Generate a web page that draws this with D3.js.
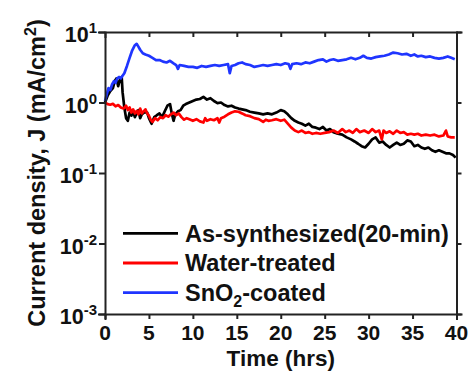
<!DOCTYPE html>
<html>
<head>
<meta charset="utf-8">
<script src="https://cdn.jsdelivr.net/npm/d3@7"></script>
<style>
  html, body { margin: 0; padding: 0; background: #fff; }
  svg { display: block; }
  text { font-family: "Liberation Sans", Arial, sans-serif; font-weight: bold; fill: #111; }
</style>
</head>
<body>
<svg id="chart" width="473" height="374"></svg>
<script>
// Time (hrs) and current density J (mA/cm^2) for each electrode
const timeBlack = [0,0.3,0.6,0.9,1.1,1.3,1.5,1.7,1.9,2.0,2.2,2.4,2.6,2.8,3.0,3.2,3.4,3.6,3.8,4.0,4.2,4.5,4.8,5.0,5.3,5.6,5.9,6.2,6.5,6.8,7.1,7.4,7.6,7.8,8.0,8.3,8.6,8.9,9.2,9.6,10.0,10.4,10.8,11.2,11.6,12.0,12.4,12.8,13.2,13.6,14.0,14.4,14.8,15.2,15.6,16.0,16.5,17.0,17.5,18.0,18.5,19.0,19.5,20.0,20.4,20.8,21.2,21.6,22.0,22.4,22.8,23.2,23.6,24.0,24.4,24.8,25.2,25.6,26.0,26.5,27.0,27.5,28.0,28.4,28.8,29.2,29.6,30.0,30.4,30.8,31.2,31.6,32.0,32.4,32.8,33.2,33.6,34.0,34.4,34.8,35.2,35.6,36.0,36.4,36.8,37.2,37.6,38.0,38.4,38.8,39.2,39.6,39.9];
const asSynthesized = [1.0,1.25,1.45,1.6,2.0,2.2,1.7,2.1,2.3,1.4,0.85,0.6,0.55,0.72,0.65,0.75,0.62,0.7,0.78,0.6,0.68,0.73,0.72,0.6,0.5,0.62,0.66,0.7,0.62,0.75,0.9,0.95,0.7,0.55,0.68,0.75,0.78,0.9,0.95,1.0,1.05,1.1,1.12,1.2,1.1,1.15,1.05,0.98,1.0,0.92,0.88,0.9,0.85,0.82,0.8,0.78,0.74,0.72,0.7,0.68,0.7,0.68,0.72,0.78,0.75,0.68,0.6,0.55,0.52,0.5,0.47,0.5,0.45,0.44,0.42,0.45,0.4,0.42,0.38,0.36,0.35,0.32,0.3,0.28,0.26,0.24,0.23,0.26,0.3,0.32,0.27,0.28,0.25,0.23,0.25,0.27,0.25,0.26,0.29,0.28,0.24,0.25,0.23,0.22,0.23,0.21,0.2,0.21,0.2,0.19,0.19,0.18,0.165];

const timeRed = [0,0.3,0.6,0.9,1.2,1.5,1.8,2.1,2.4,2.6,2.8,3.0,3.2,3.4,3.6,3.8,4.0,4.2,4.4,4.6,4.8,5.0,5.2,5.4,5.7,6.0,6.3,6.6,6.9,7.2,7.5,7.8,8.1,8.4,8.7,9.0,9.3,9.6,10.0,10.4,10.8,11.2,11.4,11.6,12.0,12.4,12.8,13.0,13.2,13.6,14.0,14.4,14.8,15.2,15.6,16.0,16.5,17.0,17.5,18.0,18.3,18.6,19.0,19.5,20.0,20.4,20.8,21.2,21.6,22.0,22.4,22.8,23.2,23.6,24.0,24.5,25.0,25.5,26.0,26.5,27.0,27.4,27.8,28.2,28.6,29.0,29.5,30.0,30.4,30.8,31.2,31.5,31.7,32.0,32.4,32.8,33.2,33.6,34.0,34.4,34.8,35.2,35.6,36.0,36.5,37.0,37.5,38.0,38.5,38.8,39.0,39.4,39.8];
const waterTreated = [1.0,0.95,0.93,0.96,0.88,0.92,0.85,0.82,0.9,0.78,0.85,0.72,0.8,0.7,0.76,0.68,0.82,0.7,0.75,0.8,0.7,0.65,0.57,0.53,0.6,0.56,0.62,0.6,0.66,0.63,0.68,0.72,0.66,0.7,0.62,0.57,0.6,0.58,0.55,0.58,0.54,0.52,0.6,0.55,0.58,0.56,0.6,0.52,0.6,0.63,0.68,0.72,0.75,0.74,0.7,0.66,0.64,0.6,0.58,0.53,0.57,0.55,0.56,0.58,0.55,0.57,0.5,0.44,0.4,0.38,0.4,0.37,0.38,0.36,0.37,0.36,0.37,0.38,0.4,0.37,0.42,0.38,0.4,0.37,0.42,0.38,0.4,0.37,0.42,0.38,0.4,0.3,0.4,0.37,0.39,0.36,0.4,0.37,0.38,0.35,0.36,0.35,0.36,0.34,0.35,0.34,0.35,0.33,0.34,0.4,0.33,0.32,0.32];

const timeBlue = [0,0.2,0.4,0.6,0.8,1.0,1.2,1.4,1.6,1.8,2.0,2.2,2.5,2.8,3.1,3.4,3.6,3.8,4.0,4.3,4.6,5.0,5.4,5.8,6.2,6.6,7.0,7.4,7.8,8.1,8.3,8.5,9.0,9.5,10.0,10.5,11.0,11.5,12.0,12.5,13.0,13.5,14.0,14.2,14.4,14.8,15.2,15.6,16.0,16.5,17.0,17.5,18.0,18.5,19.0,19.5,20.0,20.5,20.9,21.1,21.3,21.8,22.3,22.8,23.3,23.8,24.3,24.8,25.2,25.6,26.0,26.5,27.0,27.5,28.0,28.5,29.0,29.4,29.8,30.3,30.8,31.3,31.8,32.3,32.8,33.3,33.8,34.3,34.8,35.2,35.6,36.0,36.5,37.0,37.5,38.0,38.5,39.0,39.4,39.8];
const snO2Coated = [1.05,1.3,1.6,1.5,1.8,2.0,1.9,2.2,2.3,2.2,2.4,2.6,3.3,4.3,5.5,6.5,6.8,6.2,5.6,5.0,4.8,4.6,4.3,4.0,4.0,3.8,3.7,3.9,3.6,3.4,3.0,3.4,3.3,3.2,3.2,3.1,3.3,3.2,3.3,3.4,3.3,3.4,3.5,2.6,3.3,3.4,3.6,3.7,3.5,3.4,3.2,3.3,3.4,3.3,3.4,3.5,3.4,3.6,3.5,3.0,3.5,3.6,3.5,3.7,3.6,3.8,4.0,4.1,3.8,4.0,4.1,3.9,4.0,4.1,4.3,4.1,4.3,4.6,4.3,4.2,4.4,4.5,4.6,4.8,5.1,5.0,4.8,4.9,4.6,4.8,4.5,4.6,4.4,4.5,4.3,4.2,4.3,4.5,4.3,4.1];

const legendLabels = ["As-synthesized(20-min)", "Water-treated", "SnO2-coated"];
const seriesColors = ["#000000", "#ff0000", "#1f35ff"];
const xTicks = [0,5,10,15,20,25,30,35,40];
const yTickExponents = [1,0,-1,-2,-3];

const svg = d3.select("#chart");
const plot = { left: 105, right: 456.5, top: 32, bottom: 314 };

const x = d3.scaleLinear().domain([0, 40]).range([plot.left, plot.right]);
const y = d3.scaleLog().domain([1e-3, 10]).range([plot.bottom, plot.top]);

const axisColor = "#222";

// Data traces
const series = [
  { t: timeBlack, v: asSynthesized, color: seriesColors[0] },
  { t: timeRed, v: waterTreated, color: seriesColors[1] },
  { t: timeBlue, v: snO2Coated, color: seriesColors[2] }
];
const line = d3.line().x(d => x(d[0])).y(d => y(d[1]));
series.forEach(s => {
  svg.append("path")
    .datum(s.t.map((t, i) => [t, s.v[i]]))
    .attr("d", line)
    .attr("fill", "none")
    .attr("stroke", s.color)
    .attr("stroke-width", 2.7)
    .attr("stroke-linejoin", "round");
});

// Axes: bottom and left with outward ticks, top with inward ticks, right with outward ticks
const tickVals = yTickExponents.map(e => Math.pow(10, e));
svg.append("g").attr("transform", `translate(0,${plot.bottom})`)
  .call(d3.axisBottom(x).tickValues(xTicks).tickSize(5).tickFormat(""))
  .call(g => g.selectAll("path,line").attr("stroke", axisColor).attr("stroke-width", 2));
svg.append("g").attr("transform", `translate(0,${plot.top})`)
  .call(d3.axisBottom(x).tickValues(xTicks.slice(1, -1)).tickSize(5).tickFormat(""))
  .call(g => g.selectAll("path,line").attr("stroke", axisColor).attr("stroke-width", 2));
svg.append("g").attr("transform", `translate(${plot.left},0)`)
  .call(d3.axisLeft(y).tickValues(tickVals).tickSize(6).tickFormat(""))
  .call(g => g.selectAll("path,line").attr("stroke", axisColor).attr("stroke-width", 2));
svg.append("g").attr("transform", `translate(${plot.right},0)`)
  .call(d3.axisRight(y).tickValues(tickVals).tickSize(5).tickFormat(""))
  .call(g => g.selectAll("path,line").attr("stroke", axisColor).attr("stroke-width", 2));
svg.selectAll(".domain").attr("stroke-linecap", "square");

// X tick labels
svg.append("g").selectAll("text").data(xTicks).join("text")
  .attr("x", d => x(d)).attr("y", plot.bottom + 26)
  .attr("text-anchor", "middle").attr("font-size", 21)
  .text(d => d);

// Y tick labels with superscript exponents
const yLab = svg.append("g").selectAll("text").data(yTickExponents).join("text")
  .attr("x", 97).attr("y", d => y(Math.pow(10, d)) + 10)
  .attr("text-anchor", "end").attr("font-size", 21.5);
yLab.append("tspan").text("10");
yLab.append("tspan").attr("font-size", 15).attr("dy", -9)
  .text(d => (d < 0 ? "-" : "") + Math.abs(d));

// Axis titles
svg.append("text")
  .attr("x", (plot.left + plot.right) / 2).attr("y", 365.5)
  .attr("text-anchor", "middle").attr("font-size", 22.5)
  .text("Time (hrs)");

const yTitle = svg.append("text")
  .attr("transform", `translate(45,173) rotate(-90)`)
  .attr("text-anchor", "middle").attr("font-size", 23.5);
yTitle.append("tspan").text("Current density, J (mA/cm");
yTitle.append("tspan").attr("font-size", 16).attr("dy", -9).text("2");
yTitle.append("tspan").attr("dy", 9).text(")");

// Legend
const legend = svg.append("g");
legendLabels.forEach((label, i) => {
  const ly = 233.3 + i * 29.7;
  legend.append("line")
    .attr("x1", 123).attr("x2", 178).attr("y1", ly).attr("y2", ly)
    .attr("stroke", seriesColors[i]).attr("stroke-width", 2.8);
  const t = legend.append("text").attr("x", 185).attr("y", ly + 8.4).attr("font-size", 23.5);
  if (label === "SnO2-coated") {
    t.append("tspan").text("SnO");
    t.append("tspan").attr("font-size", 16).attr("dy", 6).text("2");
    t.append("tspan").attr("dy", -6).text("-coated");
  } else {
    t.text(label);
  }
});
</script>
</body>
</html>
